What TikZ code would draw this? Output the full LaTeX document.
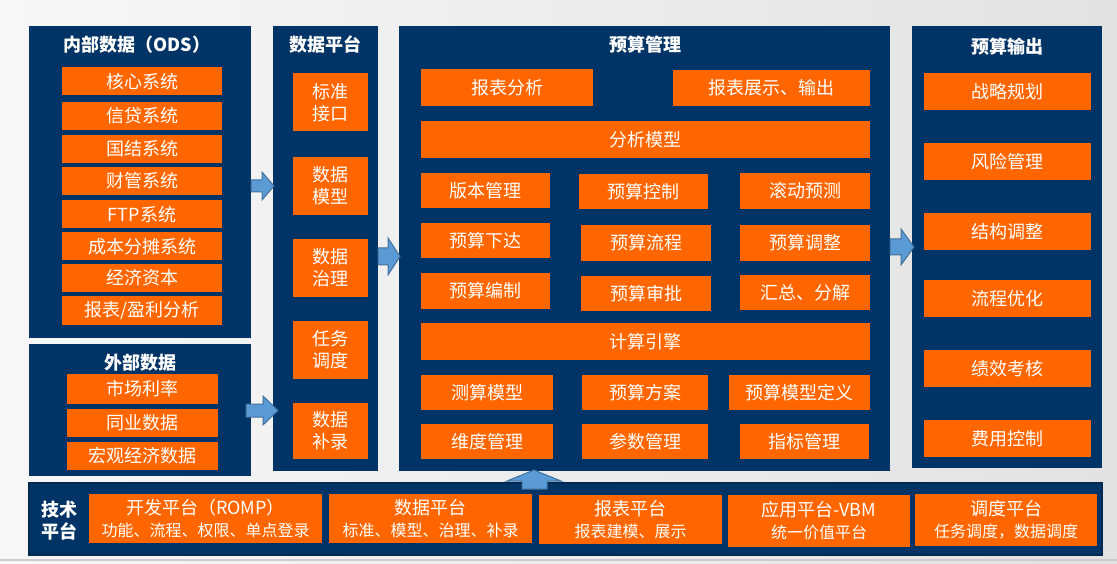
\documentclass[tikz,border=0pt]{standalone}
\usepackage{fontspec}
\setmainfont{Noto Sans CJK SC}
\definecolor{navy}{RGB}{0,51,102}
\definecolor{boxorange}{RGB}{255,102,0}
\definecolor{arrowblue}{RGB}{91,155,213}
\definecolor{arrowedge}{RGB}{65,113,156}
\definecolor{bgleft}{RGB}{247,247,247}
\definecolor{bgright}{RGB}{226,226,226}
\newcommand\subtext{\fontsize{16}{20}\selectfont}

\begin{document}
\begin{tikzpicture}[x=1pt,y=-1pt,
    panel/.style={fill=navy,inner sep=0,outer sep=0},
    item/.style={fill=boxorange,text=white,inner sep=0,outer sep=0,align=center,font=\fontsize{18}{22}\selectfont},
    title/.style={text=white,inner sep=0,align=center,font=\bfseries\fontsize{18}{22}\selectfont},
    blockarrow/.style={fill=arrowblue,draw=arrowedge,line width=1pt,line join=miter}]
            \useasboundingbox (0,0) rectangle (1117,564);
            \shade [left color=bgleft,right color=bgright] (0,0) rectangle (1117,564);
            \draw [gray!40,line width=1.5pt] (0,560) -- (1117,560);

            % left column: internal and external data
            \node [panel,minimum width=222,minimum height=312](ods) at (140,182){};
            \node [title](odst) at (137,45){内部数据（ODS）};
            \node [item,minimum width=160,minimum height=28](core) at (142,81.5){核心系统};
            \node [item,minimum width=160,minimum height=28](credit) at (142,116){信贷系统};
            \node [item,minimum width=160,minimum height=28](settle) at (142,149){国结系统};
            \node [item,minimum width=160,minimum height=28](finance) at (142,181){财管系统};
            \node [item,minimum width=160,minimum height=28](ftp) at (142,214.5){FTP系统};
            \node [item,minimum width=160,minimum height=28](cost) at (142,246.5){成本分摊系统};
            \node [item,minimum width=160,minimum height=28](capital) at (142,278){经济资本};
            \node [item,minimum width=160,minimum height=28](profit) at (142,310.5){报表/盈利分析};

            \node [panel,minimum width=222,minimum height=132](ext) at (140,410){};
            \node [title](extt) at (140,363){外部数据};
            \node [item,minimum width=151,minimum height=30](rate) at (142.5,389){市场利率};
            \node [item,minimum width=151,minimum height=28](peer) at (142.5,423){同业数据};
            \node [item,minimum width=151,minimum height=28](macro) at (142.5,456){宏观经济数据};

            % data platform
            \node [panel,minimum width=105,minimum height=445](dp) at (325.5,248.5){};
            \node [title](dpt) at (325,45){数据平台};
            \node [item,minimum width=75,minimum height=58](std) at (330.5,102.5){标准\\接口};
            \node [item,minimum width=75,minimum height=58](model) at (330.5,186){数据\\模型};
            \node [item,minimum width=75,minimum height=58](govern) at (330.5,268){数据\\治理};
            \node [item,minimum width=75,minimum height=58](task) at (330.5,349.5){任务\\调度};
            \node [item,minimum width=75,minimum height=56](supp) at (330.5,430.5){数据\\补录};

            % budget management
            \node [panel,minimum width=491,minimum height=445](bm) at (644.5,248.5){};
            \node [title](bmt) at (645,45){预算管理};
            \node [item,minimum width=172,minimum height=37](ana) at (507,88){报表分析};
            \node [item,minimum width=197,minimum height=36](show) at (771.5,88){报表展示、输出};
            \node [item,minimum width=449,minimum height=37](amodel) at (645.5,139.5){分析模型};
            \node [item,minimum width=129,minimum height=35](ver) at (485.5,190.5){版本管理};
            \node [item,minimum width=129,minimum height=35](ctrl) at (643.5,191.5){预算控制};
            \node [item,minimum width=130,minimum height=36](roll) at (805,191){滚动预测};
            \node [item,minimum width=129,minimum height=35](issue) at (485.5,240.5){预算下达};
            \node [item,minimum width=130,minimum height=36](flow) at (646,243){预算流程};
            \node [item,minimum width=130,minimum height=36](adj) at (805,243){预算调整};
            \node [item,minimum width=129,minimum height=36](prep) at (485.5,291){预算编制};
            \node [item,minimum width=130,minimum height=35](appr) at (646,293.5){预算审批};
            \node [item,minimum width=130,minimum height=35](sum) at (805,292.5){汇总、分解};
            \node [item,minimum width=449,minimum height=37](engine) at (645.5,341.5){计算引擎};
            \node [item,minimum width=132,minimum height=35](calc) at (487,392.5){测算模型};
            \node [item,minimum width=126,minimum height=35](plan) at (645,392.5){预算方案};
            \node [item,minimum width=141,minimum height=35](def) at (799.5,392.5){预算模型定义};
            \node [item,minimum width=132,minimum height=35](dim) at (487,441.5){维度管理};
            \node [item,minimum width=126,minimum height=35](param) at (645,441.5){参数管理};
            \node [item,minimum width=129,minimum height=35](index) at (804.5,441.5){指标管理};

            % budget output
            \node [panel,minimum width=190,minimum height=442](out) at (1007,247){};
            \node [title](outt) at (1007,47){预算输出};
            \node [item,minimum width=167,minimum height=37](strat) at (1007.5,91.5){战略规划};
            \node [item,minimum width=167,minimum height=37](risk) at (1007.5,161.5){风险管理};
            \node [item,minimum width=167,minimum height=37](struct) at (1007.5,231.5){结构调整};
            \node [item,minimum width=167,minimum height=37](opt) at (1007.5,298.5){流程优化};
            \node [item,minimum width=167,minimum height=37](perf) at (1007.5,368.5){绩效考核};
            \node [item,minimum width=167,minimum height=37](fee) at (1007.5,438.5){费用控制};

            % technology platform
            \node [panel,draw=navy!80!black,line width=1.5pt,minimum width=1073,minimum height=72](tp) at (565.5,519){};
            \node [title](tpt) at (59,521){技术\\平台};
            \node [item,minimum width=233,minimum height=49](dev) at (205.5,518.5){开发平台（ROMP）\\{\subtext 功能、流程、权限、单点登录}};
            \node [item,minimum width=203,minimum height=49](data) at (430.5,518.5){数据平台\\{\subtext 标准、模型、治理、补录}};
            \node [item,minimum width=183,minimum height=49](rep) at (630.5,519.5){报表平台\\{\subtext 报表建模、展示}};
            \node [item,minimum width=182,minimum height=52](vbm) at (819,521){应用平台-VBM\\{\subtext 统一价值平台}};
            \node [item,minimum width=182,minimum height=52](sched) at (1006,520){调度平台\\{\subtext 任务调度，数据调度}};

            % block arrows
            \filldraw [blockarrow] (251,180) -- (262,180) -- (262,172) -- (274,186) -- (262,200) -- (262,192) -- (251,192) -- cycle;
            \filldraw [blockarrow] (246,404) -- (263,404) -- (263,396) -- (278,410.5) -- (263,425) -- (263,417) -- (246,417) -- cycle;
            \filldraw [blockarrow] (378,248) -- (388,248) -- (388,238) -- (400,256.5) -- (388,275) -- (388,265) -- (378,265) -- cycle;
            \filldraw [blockarrow] (890,239) -- (901,239) -- (901,229) -- (914,247) -- (901,265) -- (901,255) -- (890,255) -- cycle;
            \filldraw [blockarrow] (522,489) -- (522,481) -- (507,481) -- (534,470) -- (561,481) -- (547,481) -- (547,489) -- cycle;
\end{tikzpicture}
\end{document}
